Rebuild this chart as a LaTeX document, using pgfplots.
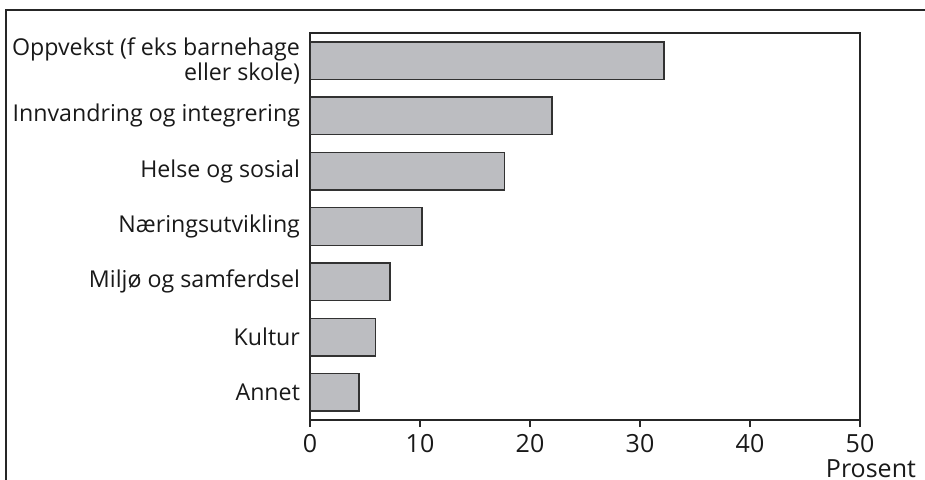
\documentclass[border=0pt]{standalone}
\usepackage{pgfplots}
\pgfplotsset{compat=1.18}
\usepackage{fontspec}
\setmainfont{Open Sans}
\definecolor{barfill}{RGB}{188,189,193}
\definecolor{bardraw}{RGB}{50,50,50}
\begin{document}
\begin{tikzpicture}
\useasboundingbox (0,0) rectangle (462.5pt,-240pt);
\draw[line width=1pt, color=black!85] (3pt,-5pt) rectangle (520pt,-300pt);
\begin{axis}[
  at={(155pt,-210pt)}, anchor=south west,
  scale only axis, width=275pt, height=193.5pt,
  xmin=0, xmax=50, ymin=-0.5, ymax=6.5, y dir=reverse,
  xbar, bar width=0.68,
  xtick={0,10,...,50}, ytick={0,...,6},
  yticklabels={{Oppvekst (f eks barnehage\\eller skole)}, Innvandring og integrering, Helse og sosial, Næringsutvikling, Miljø og samferdsel, Kultur, Annet},
  yticklabel style={align=right, font=\fontsize{11.6}{11.5}\selectfont, text=black!90, xshift=2pt},
  xticklabel style={font=\fontsize{12.5}{13}\selectfont, text=black!90},
  /pgf/number format/assume math mode=true,
  major tick length=3.5pt,
  xtick pos=bottom, xtick align=outside,
  ytick style={draw=none},
  x tick style={line width=0.9pt, color=black!85},
  axis line style={line width=1pt, color=black!85},
  xlabel={Prosent},
  xlabel style={at={(rel axis cs:1,0)}, anchor=base east, xshift=31.5pt, yshift=-28.5pt, font=\fontsize{12.5}{13}\selectfont, text=black!90},
]
\addplot[fill=barfill, draw=bardraw, line width=0.75pt] coordinates {
(32.2,0) (22.0,1) (17.7,2) (10.2,3) (7.25,4) (5.97,5) (4.45,6)
};
\end{axis}
\end{tikzpicture}
\end{document}
